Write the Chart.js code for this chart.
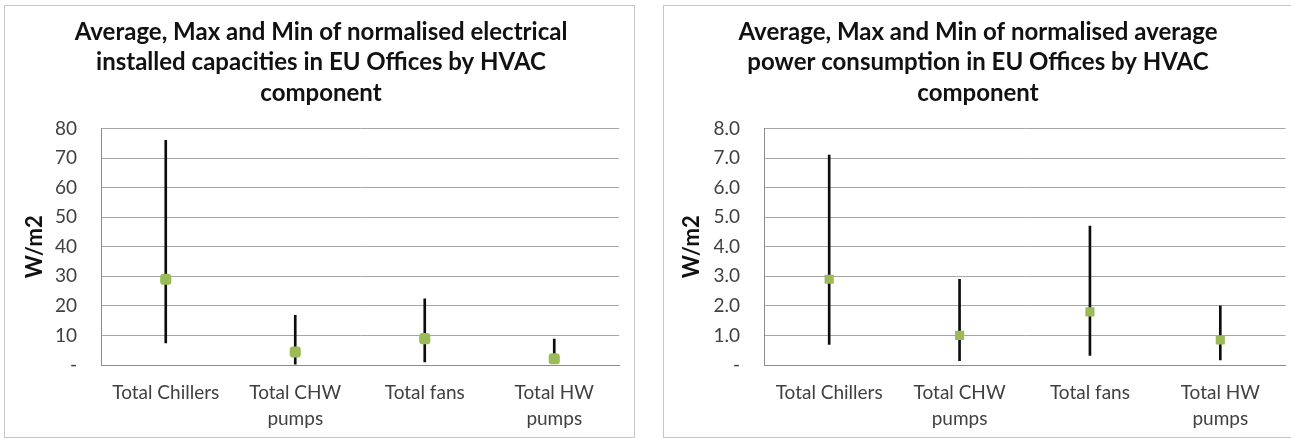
<!DOCTYPE html>
<html>
<head>
<meta charset="utf-8">
<script src="https://cdn.jsdelivr.net/npm/chart.js@4"></script>
<style>
  html,body{margin:0;padding:0;background:#fff;width:1291px;height:438px;overflow:hidden;}
  .box{position:absolute;border:1px solid #c6c6c6;box-sizing:border-box;background:#fff;}
  canvas{position:absolute;left:0;top:0;}
</style>
</head>
<body>
<div class="box" id="b1" style="left:4px;top:5px;width:631px;height:433px;"><canvas id="c1"></canvas></div>
<div class="box" id="b2" style="left:663px;top:5px;width:630px;height:433px;"><canvas id="c2"></canvas></div>
<script>
// ---- data ----
const categories = [["Total Chillers"], ["Total CHW", "pumps"], ["Total fans"], ["Total HW", "pumps"]];

const capTitle = ["Average, Max and Min of normalised electrical", "installed capacities in EU Offices by HVAC", "component"];
const capMin = [7.5, 0.3, 1.0, 0.5];
const capMax = [76, 16.8, 22.4, 8.8];
const capAvg = [29, 4.4, 8.9, 2.1];
const capTicks = [0, 10, 20, 30, 40, 50, 60, 70, 80];

const powTitle = ["Average, Max and Min of normalised average", "power consumption in EU Offices by HVAC", "component"];
const powMin = [0.7, 0.15, 0.32, 0.17];
const powMax = [7.1, 2.9, 4.7, 2.0];
const powAvg = [2.9, 1.0, 1.8, 0.85];
const powTicks = [0, 1, 2, 3, 4, 5, 6, 7, 8];

const yTitle = "W/m2";

// ---- helpers ----
const FONT = "Lato";
const TXT = "#404040";
const GRID = "#a6a6a6";

function makeChart(id, w, h, title, mins, maxs, avgs, ticks, fmt, pad, yAxisWidth, yTitlePad, markerStyle) {
  const cv = document.getElementById(id);
  cv.width = w; cv.height = h;
  cv.style.width = w + "px"; cv.style.height = h + "px";
  const ranges = mins.map((m, i) => [m, maxs[i]]);
  return new Chart(cv, {
    data: {
      labels: categories,
      datasets: [
        {
          type: "line",
          label: "Average",
          data: avgs,
          showLine: false,
          pointStyle: markerStyle,
          pointRadius: 6.5,
          pointHoverRadius: 6.5,
          pointBackgroundColor: "#9bbb59",
          pointBorderColor: "#9bbb59",
          pointBorderWidth: 0,
          order: 0
        },
        {
          type: "bar",
          label: "Range",
          data: ranges,
          backgroundColor: "#0d0d0d",
          borderWidth: 0,
          barThickness: 2,
          order: 1
        }
      ]
    },
    options: {
      responsive: false,
      animation: false,
      events: [],
      layout: { padding: { top: 0, left: pad.left, right: pad.right, bottom: 4 } },
      plugins: {
        legend: { display: false },
        tooltip: { enabled: false },
        title: {
          display: true,
          text: title,
          color: "#111",
          font: { family: FONT, size: 24, weight: "bold", lineHeight: "30.5px" },
          padding: { top: 11, bottom: 20 }
        }
      },
      scales: {
        x: {
          type: "category",
          offset: true,
          grid: { display: false, drawTicks: false },
          border: { display: true, color: "#8c8c8c", width: 1 },
          ticks: {
            color: TXT,
            font: { family: FONT, size: 19, lineHeight: "26px" },
            padding: 15,
            maxRotation: 0,
            autoSkip: false
          },
          afterFit: (s) => { s.height = 68; }
        },
        y: {
          type: "linear",
          min: ticks[0],
          max: ticks[ticks.length - 1],
          afterBuildTicks: (s) => { s.ticks = ticks.map(v => ({ value: v })); },
          grid: { color: GRID, lineWidth: 1, drawTicks: false },
          border: { display: true, color: "#8c8c8c", width: 1 },
          ticks: {
            color: TXT,
            font: { family: FONT, size: 19 },
            padding: 24,
            callback: fmt
          },
          title: {
            display: true,
            text: yTitle,
            color: "#111",
            font: { family: FONT, size: 22, weight: "bold", lineHeight: 0.9 },
            padding: { top: yTitlePad, bottom: 0 }
          },
          afterFit: (s) => { s.width = yAxisWidth; }
        }
      }
    }
  });
}

const fmtCap = (v) => v === 0 ? "-" : String(v);
const fmtPow = (v) => v === 0 ? "-" : Number(v).toFixed(1);

const ch1 = makeChart("c1", 629, 431, capTitle, capMin, capMax, capAvg, capTicks, fmtCap,
  { left: 18, right: 15 }, 78, 2, "rectRounded");
const ch2 = makeChart("c2", 628, 431, powTitle, powMin, powMax, powAvg, powTicks, fmtPow,
  { left: 0, right: 0 }, 100, 18, "rect");
</script>
</body>
</html>
